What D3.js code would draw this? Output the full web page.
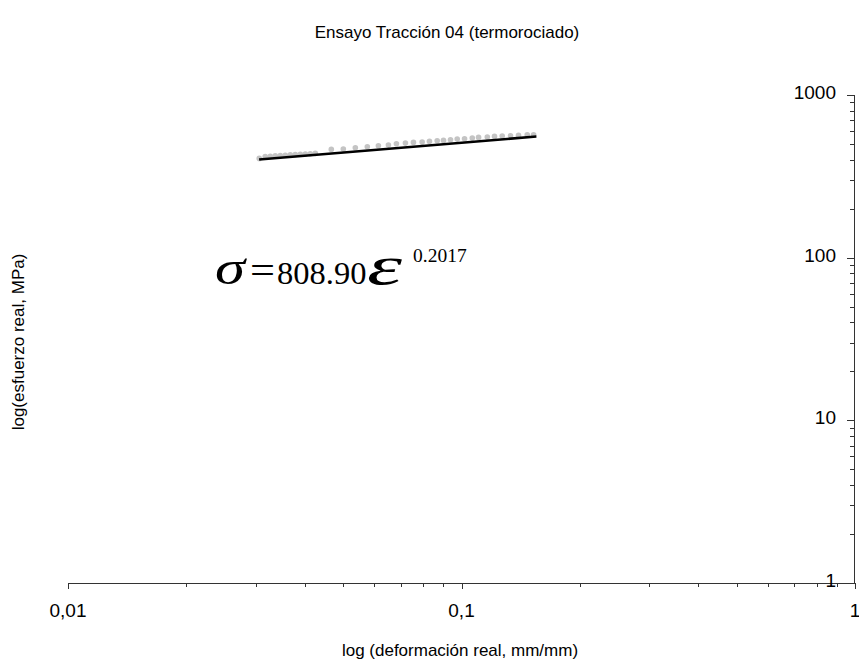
<!DOCTYPE html>
<html>
<head>
<meta charset="utf-8">
<script src="https://cdn.jsdelivr.net/npm/d3@7"></script>
<style>
  html, body { margin: 0; padding: 0; background: #fff; }
  svg { display: block; }
  text { font-family: "Liberation Sans", Arial, sans-serif; fill: #000; }
</style>
</head>
<body>
<svg id="chart" width="859" height="663"></svg>
<script>
// ---- data ----
const titleText = "Ensayo Tracción 04 (termorociado)";
const xLabel = "log (deformación real, mm/mm)";
const yLabel = "log(esfuerzo real, MPa)";

// measured points (true strain, true stress MPa)
const strain = [0.03062, 0.03171, 0.03266, 0.03363, 0.03463, 0.03566, 0.03672, 0.03781, 0.03894,
  0.04010, 0.04128, 0.04251, 0.04668, 0.05008, 0.05373, 0.05763, 0.06149, 0.06520, 0.06833,
  0.07203, 0.07549, 0.07943, 0.08291, 0.08674, 0.09000, 0.09376, 0.09752, 0.1018, 0.1065,
  0.1105, 0.1163, 0.1213, 0.1269, 0.1332, 0.1396, 0.1469, 0.1525];
const stress = [407.7, 418.8, 420.6, 422.4, 424.2, 426.6, 428.4, 430.2, 432.1, 434.0, 435.8, 437.7,
  463.0, 465.0, 473.7, 480.4, 487.3, 492.2, 501.3, 506.3, 511.3, 513.5, 518.6, 523.1, 526.0,
  530.5, 535.8, 538.1, 543.4, 548.8, 551.2, 556.6, 559.0, 561.4, 564.5, 569.4, 569.4];

// power-law fit line endpoints
const fitStrain = [0.0306, 0.155];
const fitStress = [401.4, 555.7];
const fitK = "808.90";
const fitN = "0.2017";

// axis ticks
const xTicks = [0.01, 0.1, 1];
const xTickLabels = ["0,01", "0,1", "1"];
const yTicks = [1, 10, 100, 1000];
const yTickLabels = ["1", "10", "100", "1000"];

// ---- drawing ----
const svg = d3.select("#chart");
const x = d3.scaleLog().domain([0.01, 1]).range([68, 855]);
const y = d3.scaleLog().domain([1, 1000]).range([583, 95]);

const minorX = [];
for (let d = 0.01; d < 1; d *= 10) for (let k = 2; k <= 9; k++) minorX.push(d * k);
const minorY = [];
for (let d = 1; d < 1000; d *= 10) for (let k = 2; k <= 9; k++) minorY.push(d * k);

const axisColor = "#333";

// bottom axis
const gx = svg.append("g").attr("transform", `translate(0,${y(1)})`);
gx.append("line").attr("x1", x(0.01)).attr("x2", x(1)).attr("y1", 0.5).attr("y2", 0.5)
  .attr("stroke", axisColor).attr("stroke-width", 1);
gx.selectAll(".maj").data(xTicks).join("line")
  .attr("x1", d => Math.round(x(d)) + 0.5).attr("x2", d => Math.round(x(d)) + 0.5)
  .attr("y1", 0).attr("y2", 6).attr("stroke", axisColor);
gx.selectAll(".min").data(minorX).join("line")
  .attr("x1", d => Math.round(x(d)) + 0.5).attr("x2", d => Math.round(x(d)) + 0.5)
  .attr("y1", 0).attr("y2", 4).attr("stroke", axisColor);
gx.selectAll(".lab").data(xTicks).join("text")
  .attr("x", d => x(d)).attr("y", 34)
  .attr("text-anchor", "middle").attr("font-size", 19)
  .text((d, i) => xTickLabels[i]);

// right axis
const gy = svg.append("g").attr("transform", `translate(${x(1)},0)`);
gy.append("line").attr("x1", -0.5).attr("x2", -0.5).attr("y1", y(1000)).attr("y2", y(1))
  .attr("stroke", axisColor);
gy.selectAll(".maj").data(yTicks).join("line")
  .attr("x1", -8).attr("x2", 0)
  .attr("y1", d => Math.round(y(d)) + 0.5).attr("y2", d => Math.round(y(d)) + 0.5)
  .attr("stroke", axisColor);
gy.selectAll(".min").data(minorY).join("line")
  .attr("x1", -5).attr("x2", 0)
  .attr("y1", d => Math.round(y(d)) + 0.5).attr("y2", d => Math.round(y(d)) + 0.5)
  .attr("stroke", axisColor);
gy.selectAll(".lab").data(yTicks).join("text")
  .attr("x", -19).attr("y", d => y(d) + 4)
  .attr("text-anchor", "end").attr("font-size", 19)
  .text((d, i) => yTickLabels[i]);

// data points
svg.append("g").selectAll("circle").data(strain).join("circle")
  .attr("cx", (d) => x(d)).attr("cy", (d, i) => y(stress[i]))
  .attr("r", 2.8).attr("fill", "#c4c4c4");

// fit line
svg.append("path")
  .datum(fitStrain.map((d, i) => [d, fitStress[i]]))
  .attr("d", d3.line().x(d => x(d[0])).y(d => y(d[1])))
  .attr("stroke", "#000").attr("stroke-width", 2.6).attr("fill", "none");

// title & labels
svg.append("text").attr("x", 447).attr("y", 38).attr("text-anchor", "middle")
  .attr("font-size", 17).text(titleText);
svg.append("text").attr("x", 460).attr("y", 656).attr("text-anchor", "middle")
  .attr("font-size", 17).text(xLabel);
svg.append("text").attr("transform", "translate(24,342) rotate(-90)")
  .attr("text-anchor", "middle").attr("font-size", 17).text(yLabel);

// equation: pieces placed individually
const serif = "'Liberation Serif', 'Times New Roman', serif";
const eqParts = [
  { t: "σ", x: 215, w: 30, fs: 48, it: true, by: 284 },
  { t: "=", x: 250, w: 25, fs: 40, it: false, by: 284 },
  { t: fitK, x: 277, w: null, fs: 32.5, it: false, by: 284 },
  { t: "ε", x: 367, w: 35, fs: 54, it: true, by: 284 },
  { t: fitN, x: 413, w: null, fs: 19.5, it: false, by: 262 }
];
svg.append("g").selectAll("text").data(eqParts).join("text")
  .attr("x", d => d.x).attr("y", d => d.by)
  .attr("font-size", d => d.fs)
  .attr("font-style", d => d.it ? "italic" : "normal")
  .attr("textLength", d => d.w)
  .attr("lengthAdjust", d => d.w ? "spacingAndGlyphs" : null)
  .style("font-family", serif)
  .text(d => d.t);
</script>
</body>
</html>
